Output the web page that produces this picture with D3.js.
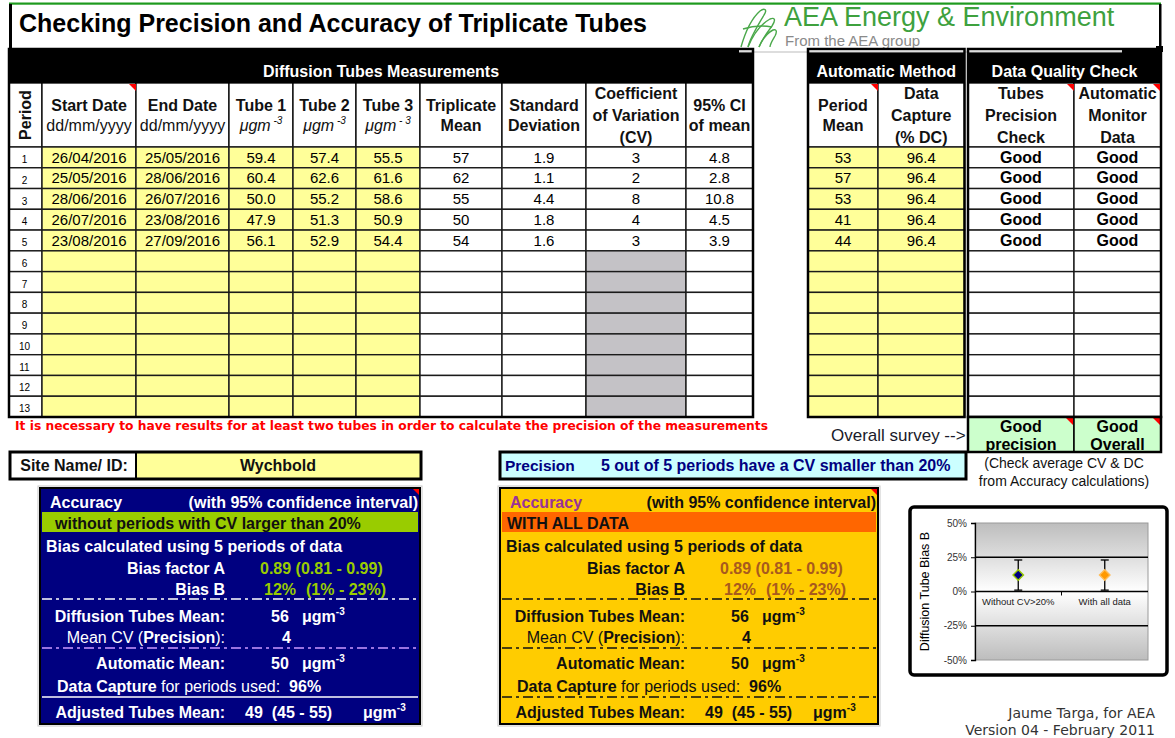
<!DOCTYPE html>
<html><head><meta charset="utf-8">
<script src="https://cdn.jsdelivr.net/npm/d3@7"></script>
<style>
html,body{margin:0;padding:0;background:#fff;overflow:hidden}
svg{display:block;font-family:"Liberation Sans",Arial,Helvetica,sans-serif}
</style></head><body>
<svg id="c" width="1175" height="738"></svg>
<script>
// ---------------- DATA ----------------
const periods = [1,2,3,4,5,6,7,8,9,10,11,12,13];
const startDates = ["26/04/2016","25/05/2016","28/06/2016","26/07/2016","23/08/2016"];
const endDates   = ["25/05/2016","28/06/2016","26/07/2016","23/08/2016","27/09/2016"];
const tube1 = [59.4, 60.4, 50.0, 47.9, 56.1];
const tube2 = [57.4, 62.6, 55.2, 51.3, 52.9];
const tube3 = [55.5, 61.6, 58.6, 50.9, 54.4];
const tripMean = [57, 62, 55, 50, 54];
const stdDev = [1.9, 1.1, 4.4, 1.8, 1.6];
const cvValues = [3, 2, 8, 4, 3];
const ci95 = [4.8, 2.8, 10.8, 4.5, 3.9];
const autoMean = [53, 57, 53, 41, 44];
const dataCapture = [96.4, 96.4, 96.4, 96.4, 96.4];
const precisionCheck = ["Good","Good","Good","Good","Good"];
const monitorCheck = ["Good","Good","Good","Good","Good"];
const overallChecks = [["Good","precision"],["Good","Overall"]];

const siteName = "Wychbold";
const periodsUsed = [5, 5];
const periodsTotal = 5;
const cvLimit = 20;
const biasA = [0.89, 0.89];
const biasALo = [0.81, 0.81];
const biasAHi = [0.99, 0.99];
const biasB = [0.12, 0.12];
const biasBLo = [0.01, 0.01];
const biasBHi = [0.23, 0.23];
const tubesMean = [56, 56];
const meanCV = [4, 4];
const automaticMean = [50, 50];
const captureUsed = [96, 96];
const adjMean = [49, 49];
const adjLo = [45, 45];
const adjHi = [55, 55];

const chartCats = ["Without CV>20%", "With all data"];
const yTickVals = [-0.5, -0.25, 0, 0.25, 0.5];

// ---------------- LAYOUT ----------------
const svg = d3.select("#c");
const defs = svg.append("defs");
const txtDark = "#111";

function tri(x, y, s) {
  svg.append("path").attr("d", `M${x-s},${y}L${x},${y}L${x},${y+s}Z`).attr("fill", "#ff0000");
}

// top title area
svg.append("rect").attr("x", 9).attr("y", 2.5).attr("width", 1152).attr("height", 2.2).attr("fill", "#1e9a1e");
svg.append("rect").attr("x", 9).attr("y", 4).attr("width", 3).attr("height", 46).attr("fill", "#000");
svg.append("rect").attr("x", 1159).attr("y", 4).attr("width", 2.5).attr("height", 43).attr("fill", "#000");
svg.append("text").attr("x", 19).attr("y", 32).attr("font-size", 25).attr("font-weight", "bold").attr("fill", "#000")
  .text("Checking Precision and Accuracy of Triplicate Tubes");

// black header bands
const bandTop = 49, hdrTop = 83, hdrBot = 147, tableBot = 417;
const bands = [
  {x0: 9, x1: 753, label: "Diffusion Tubes Measurements"},
  {x0: 808, x1: 964.5, label: "Automatic Method"},
  {x0: 968, x1: 1161, label: "Data Quality Check"}
];
svg.selectAll("rect.band").data(bands).join("rect").attr("class", "band")
  .attr("x", d => d.x0).attr("y", bandTop).attr("width", d => d.x1 - d.x0).attr("height", hdrTop - bandTop)
  .attr("fill", "#000");
svg.selectAll("text.band").data(bands).join("text").attr("class", "band")
  .attr("x", d => (d.x0 + d.x1) / 2).attr("y", 77).attr("text-anchor", "middle")
  .attr("font-size", 16).attr("font-weight", "bold").attr("fill", "#fff").text(d => d.label);

// logo
svg.append("rect").attr("x", 739).attr("y", 5).attr("width", 383).attr("height", 47).attr("fill", "#fff");
svg.append("line").attr("x1", 739).attr("x2", 1122).attr("y1", 52).attr("y2", 52).attr("stroke", "#bbb");
const swirl = ["M741,47 C745,33 752,18 760,11 C764,8 768,9 764,15 C758,25 750,38 748,47",
               "M748,47 C753,35 761,24 770,19 C775,17 776,20 772,26 C766,34 761,42 759,47",
               "M759,47 C762,40 767,33 773,30 C777,29 777,32 775,36 C772,41 770,44 770,47",
               "M743,29 C752,26 762,25 772,27"];
svg.selectAll("path.sw").data(swirl).join("path").attr("class", "sw").attr("d", d => d)
  .attr("fill", "none").attr("stroke", "#4aa84a").attr("stroke-width", 1.4);
svg.append("text").attr("x", 784).attr("y", 26).attr("font-size", 27).attr("fill", "#3ea13e").text("AEA Energy & Environment");
svg.append("text").attr("x", 785).attr("y", 46).attr("font-size", 15).attr("fill", "#8a8a8a").text("From the AEA group");
svg.append("rect").attr("x", 1156).attr("y", 46).attr("width", 7).attr("height", 6).attr("fill", "#000");

// table columns
const fmt1 = d3.format(".1f");
const cols = [
  {key: "period", x0: 9, x1: 42},
  {key: "start", x0: 42, x1: 136, vals: startDates, fill: "#ffff99", hdr: [[["Start Date","b"]],[["dd/mm/yyyy","n"]]]},
  {key: "end", x0: 136, x1: 229, vals: endDates, fill: "#ffff99", hdr: [[["End Date","b"]],[["dd/mm/yyyy","n"]]]},
  {key: "t1", x0: 229, x1: 293, vals: tube1.map(fmt1), fill: "#ffff99", hdr: [[["Tube 1","b"]],[["μgm","i"],[" -3","sup"]]]},
  {key: "t2", x0: 293, x1: 356, vals: tube2.map(fmt1), fill: "#ffff99", hdr: [[["Tube 2","b"]],[["μgm","i"],[" -3","sup"]]]},
  {key: "t3", x0: 356, x1: 420, vals: tube3.map(fmt1), fill: "#ffff99", hdr: [[["Tube 3","b"]],[["μgm","i"],[" - 3","sup"]]]},
  {key: "mean", x0: 420, x1: 502, vals: tripMean.map(String), fill: "#fff", hdr: [[["Triplicate","b"]],[["Mean","b"]]]},
  {key: "sd", x0: 502, x1: 586, vals: stdDev.map(fmt1), fill: "#fff", hdr: [[["Standard","b"]],[["Deviation","b"]]]},
  {key: "cv", x0: 586, x1: 686, vals: cvValues.map(String), fill: "#fff", emptyFill: "#c4c2c6", hdr: [[["Coefficient","b"]],[["of Variation","b"]],[["(CV)","b"]]]},
  {key: "ci", x0: 686, x1: 753, vals: ci95.map(fmt1), fill: "#fff", hdr: [[["95% CI","b"]],[["of mean","b"]]]},
  {key: "am", x0: 808, x1: 878, vals: autoMean.map(String), fill: "#ffff99", hdr: [[["Period","b"]],[["Mean","b"]]]},
  {key: "dc", x0: 878, x1: 964.5, vals: dataCapture.map(fmt1), fill: "#ffff99", hdr: [[["Data","b"]],[["Capture","b"]],[["(% DC)","b"]]]},
  {key: "pc", x0: 968, x1: 1074, vals: precisionCheck, fill: "#fff", bold: true, hdr: [[["Tubes","b"]],[["Precision","b"]],[["Check","b"]]]},
  {key: "mc", x0: 1074, x1: 1161, vals: monitorCheck, fill: "#fff", bold: true, hdr: [[["Automatic","b"]],[["Monitor","b"]],[["Data","b"]]]}
];
const rowY = d3.scaleBand().domain(periods).range([hdrBot, tableBot]);

// header cells
svg.selectAll("rect.hc").data(cols).join("rect").attr("class", "hc")
  .attr("x", d => d.x0).attr("y", hdrTop).attr("width", d => d.x1 - d.x0).attr("height", hdrBot - hdrTop)
  .attr("fill", "#fff").attr("stroke", "#000").attr("stroke-width", 1.3);

function addLine(x, y, segs) {
  const t = svg.append("text").attr("x", x).attr("y", y).attr("text-anchor", "middle").attr("font-size", 16).attr("fill", txtDark);
  segs.forEach(([s, st]) => {
    const ts = t.append("tspan").text(s);
    if (st === "b") ts.attr("font-weight", "bold");
    if (st === "i") ts.attr("font-style", "italic");
    if (st === "sup") ts.attr("font-size", 10).attr("dy", -7).attr("font-style", "italic");
  });
}
cols.forEach(c => {
  if (!c.hdr) return;
  const cx = (c.x0 + c.x1) / 2;
  const ys = c.hdr.length === 2 ? [110.5, 131] : [98.5, 120.5, 142.5];
  c.hdr.forEach((line, i) => addLine(cx, ys[i], line));
});
svg.append("text").attr("transform", "translate(31,115) rotate(-90)").attr("text-anchor", "middle")
  .attr("font-size", 16).attr("font-weight", "bold").attr("fill", txtDark).text("Period");

// data cells
cols.forEach(c => {
  const g = svg.append("g");
  g.selectAll("rect").data(periods).join("rect")
    .attr("x", c.x0).attr("y", p => rowY(p)).attr("width", c.x1 - c.x0).attr("height", rowY.bandwidth())
    .attr("fill", (p, i) => c.key === "period" ? "#fff" : (c.emptyFill && i >= c.vals.length ? c.emptyFill : c.fill))
    .attr("stroke", "#1a1a1a").attr("stroke-width", 1.4);
  if (c.key === "period") {
    g.selectAll("text").data(periods).join("text")
      .attr("x", (c.x0 + c.x1) / 2 - 1).attr("y", p => rowY(p) + 16).attr("text-anchor", "middle")
      .attr("font-size", 10).attr("fill", "#000").text(p => p);
  } else {
    g.selectAll("text").data(c.vals).join("text")
      .attr("x", (c.x0 + c.x1) / 2).attr("y", (v, i) => rowY(periods[i]) + 15.5).attr("text-anchor", "middle")
      .attr("font-size", c.bold ? 16 : 15).attr("font-weight", c.bold ? "bold" : "normal").attr("fill", "#000").text(v => v);
  }
});
// thick outer borders
[[9, 753], [808, 964.5], [968, 1161]].forEach(([a, b]) => {
  svg.append("rect").attr("x", a).attr("y", bandTop).attr("width", b - a).attr("height", tableBot - bandTop)
    .attr("fill", "none").attr("stroke", "#000").attr("stroke-width", 2.5);
});

// comment triangles
[[136, hdrTop + 1], [878, hdrTop + 1], [1074, hdrTop + 1], [1160, hdrTop + 1]].forEach(([x, y]) => tri(x, y, 7));

// warning
svg.append("text").attr("x", 15).attr("y", 430).attr("font-family", '"DejaVu Sans",Verdana,sans-serif')
  .attr("font-size", 12).attr("font-weight", "bold").attr("fill", "#ff0000")
  .attr("textLength", 753).attr("lengthAdjust", "spacingAndGlyphs")
  .text("It is necessary to have results for at least two tubes in order to calculate the precision of the measurements");

// overall survey
svg.append("text").attr("x", 831).attr("y", 441).attr("font-size", 17).attr("fill", "#1a1a2a").text("Overall survey -->");
const ovCols = [[968, 1074], [1074, 1161]];
ovCols.forEach(([a, b], i) => {
  svg.append("rect").attr("x", a).attr("y", 417).attr("width", b - a).attr("height", 35)
    .attr("fill", "#ccffcc").attr("stroke", "#000").attr("stroke-width", 1.5);
  svg.append("text").attr("x", (a + b) / 2).attr("y", 432).attr("text-anchor", "middle").attr("font-size", 16)
    .attr("font-weight", "bold").attr("fill", "#000").text(overallChecks[i][0]);
  svg.append("text").attr("x", (a + b) / 2).attr("y", 449.5).attr("text-anchor", "middle").attr("font-size", 16)
    .attr("font-weight", "bold").attr("fill", "#000").text(overallChecks[i][1]);
  tri(b - 1, 418, 7);
});
svg.append("rect").attr("x", 968).attr("y", 417).attr("width", 193).attr("height", 35).attr("fill", "none").attr("stroke", "#000").attr("stroke-width", 2.5);
svg.append("text").attr("x", 1064).attr("y", 468).attr("text-anchor", "middle").attr("font-size", 14).attr("fill", "#111").text("(Check average CV & DC");
svg.append("text").attr("x", 1064).attr("y", 486).attr("text-anchor", "middle").attr("font-size", 14).attr("fill", "#111").text("from Accuracy calculations)");

// site name
svg.append("rect").attr("x", 10).attr("y", 452).attr("width", 126).attr("height", 27).attr("fill", "#fff").attr("stroke", "#000").attr("stroke-width", 2);
svg.append("rect").attr("x", 136).attr("y", 452).attr("width", 285).attr("height", 27).attr("fill", "#ffff99").attr("stroke", "#000").attr("stroke-width", 2);
svg.append("rect").attr("x", 10).attr("y", 452).attr("width", 411).attr("height", 27).attr("fill", "none").attr("stroke", "#000").attr("stroke-width", 3);
svg.append("text").attr("x", 74).attr("y", 471).attr("text-anchor", "middle").attr("font-size", 16).attr("font-weight", "bold").attr("fill", "#111").text("Site Name/ ID:");
svg.append("text").attr("x", 278).attr("y", 471).attr("text-anchor", "middle").attr("font-size", 16).attr("font-weight", "bold").attr("fill", "#111").text(siteName);

// precision box
svg.append("rect").attr("x", 500).attr("y", 452).attr("width", 466).attr("height", 27).attr("fill", "#ccffff").attr("stroke", "#000").attr("stroke-width", 3);
svg.append("text").attr("x", 505).attr("y", 471).attr("font-size", 15.5).attr("font-weight", "bold").attr("fill", "#000080").text("Precision");
svg.append("text").attr("x", 601).attr("y", 470.5).attr("font-size", 16).attr("font-weight", "bold").attr("fill", "#000080")
  .text(`${cvValues.filter(v => v < cvLimit).length} out of ${periodsTotal} periods have a CV smaller than ${cvLimit}%`);

// accuracy boxes
const boxes = [
  {x0: 40, w: 380, fill: "#000080", band: "#99cc00", bandText: `without periods with CV larger than ${cvLimit}%`, bandTx: 15,
   txt: "#ffffff", head: "#ffffff", val: "#99cc00", dash: ["#ffffff", "#cc99ff", "#ffffff"], lastSolid: true, unitX: 323},
  {x0: 500, w: 378, fill: "#ffcc00", band: "#ff6600", bandText: "WITH ALL DATA", bandTx: 7,
   txt: "#111111", head: "#993399", val: "#a85a1e", dash: ["#111", "#111", "#111"], lastSolid: false, unitX: 313}
];
const fmt2 = d3.format(".2f");
const pct = v => Math.round(v * 100) + "%";
boxes.forEach((b, i) => {
  const x0 = b.x0, right = x0 + b.w;
  svg.append("rect").attr("x", x0 - 2).attr("y", 486).attr("width", b.w + 4).attr("height", 240).attr("fill", "none").attr("stroke", "#c8c8c8");
  svg.append("rect").attr("x", x0).attr("y", 488).attr("width", b.w).attr("height", 236).attr("fill", b.fill).attr("stroke", "#000").attr("stroke-width", 2);
  svg.append("rect").attr("x", x0 + 2).attr("y", 512).attr("width", b.w - 4).attr("height", 20).attr("fill", b.band);
  tri(right - 1, 489, 6);
  const T = (x, y, s, opt = {}) => svg.append("text").attr("x", x).attr("y", y).attr("font-size", opt.size || 16)
    .attr("font-weight", opt.normal ? "normal" : "bold").attr("text-anchor", opt.anchor || "start").attr("fill", opt.color || b.txt).text(s);
  T(x0 + 10, 508, "Accuracy", {color: b.head});
  T(right - 2, 508, "(with 95% confidence interval)", {anchor: "end"});
  T(x0 + b.bandTx, 528.5, b.bandText, {color: "#111"});
  T(x0 + 6, 551.5, `Bias calculated using ${periodsUsed[i]} periods of data`);
  const lx = x0 + 185;
  T(lx, 573.5, "Bias factor A", {anchor: "end"});
  T(x0 + 220, 573.5, `${fmt2(biasA[i])} (${fmt2(biasALo[i])} - ${fmt2(biasAHi[i])})`, {color: b.val});
  T(lx, 594.5, "Bias B", {anchor: "end"});
  T(x0 + 224, 594.5, pct(biasB[i]), {color: b.val});
  T(x0 + 266, 594.5, `(${pct(biasBLo[i])} - ${pct(biasBHi[i])})`, {color: b.val});
  T(lx, 621.5, "Diffusion Tubes Mean:", {anchor: "end"});
  const unit = (x, y) => {
    const t = T(x, y, "");
    t.append("tspan").text("μgm");
    t.append("tspan").attr("font-size", 10).attr("dy", -7).text("-3");
  };
  T(x0 + 231, 621.5, String(tubesMean[i]));
  unit(x0 + 262, 621.5);
  const mc = T(lx, 642.5, "", {anchor: "end"});
  mc.append("tspan").attr("font-weight", "normal").text("Mean CV (");
  mc.append("tspan").text("Precision");
  mc.append("tspan").attr("font-weight", "normal").text("):");
  T(x0 + 242, 642.5, String(meanCV[i]));
  T(lx, 668.5, "Automatic Mean:", {anchor: "end"});
  T(x0 + 231, 668.5, String(automaticMean[i]));
  unit(x0 + 262, 668.5);
  const dcT = T(x0 + 17, 691.5, "");
  dcT.append("tspan").text("Data Capture");
  dcT.append("tspan").attr("font-weight", "normal").text(" for periods used:");
  dcT.append("tspan").text("\u00a0\u00a0" + captureUsed[i] + "%");
  T(lx, 717.5, "Adjusted Tubes Mean:", {anchor: "end"});
  T(x0 + 205, 717.5, `${adjMean[i]}\u00a0\u00a0(${adjLo[i]} - ${adjHi[i]})`);
  unit(x0 + b.unitX, 717.5);
  [599, 648, 697].forEach((y, k) => {
    const ln = svg.append("line").attr("x1", x0 + 2).attr("x2", right - 2).attr("y1", y).attr("y2", y)
      .attr("stroke", b.dash[k]).attr("stroke-width", 1.3);
    if (!(k === 2 && b.lastSolid)) ln.attr("stroke-dasharray", "10,4,3,4");
  });
});

// ---------------- CHART ----------------
const cg = svg.append("g");
cg.append("rect").attr("x", 910).attr("y", 507).attr("width", 257).attr("height", 168).attr("rx", 4)
  .attr("fill", "#fff").attr("stroke", "#000").attr("stroke-width", 3.5);
const grad = defs.append("linearGradient").attr("id", "pg").attr("x1", 0).attr("y1", 0).attr("x2", 0).attr("y2", 1);
grad.append("stop").attr("offset", "0%").attr("stop-color", "#bdbdbd");
grad.append("stop").attr("offset", "50%").attr("stop-color", "#ffffff");
grad.append("stop").attr("offset", "100%").attr("stop-color", "#bdbdbd");
const yS = d3.scaleLinear().domain([-0.5, 0.5]).range([660, 523]);
const xS = d3.scaleBand().domain(chartCats).range([975, 1148]);
cg.append("rect").attr("x", 975).attr("y", yS(0.5)).attr("width", 173).attr("height", yS(-0.5) - yS(0.5))
  .attr("fill", "url(#pg)").attr("stroke", "#9a9a9a");
cg.selectAll("line.grid").data([0.25, -0.25, 0]).join("line").attr("class", "grid")
  .attr("x1", 975).attr("x2", 1148).attr("y1", d => yS(d)).attr("y2", d => yS(d)).attr("stroke", "#000").attr("stroke-width", 1.3);
const ax = cg.append("g").attr("transform", "translate(975,0)")
  .call(d3.axisLeft(yS).tickValues(yTickVals).tickSize(4).tickPadding(4).tickFormat(d => Math.round(d * 100) + "%"));
ax.select(".domain").attr("stroke", "#000").attr("stroke-width", 1.3);
ax.selectAll(".tick line").attr("stroke", "#000");
ax.selectAll(".tick text").attr("font-size", 10).attr("fill", "#333").attr("font-family", '"Liberation Sans",Arial,sans-serif');
cg.append("line").attr("x1", xS(chartCats[1])).attr("x2", xS(chartCats[1])).attr("y1", yS(0)).attr("y2", yS(0) + 4).attr("stroke", "#000");
cg.selectAll("text.cat").data(chartCats).join("text").attr("class", "cat")
  .attr("x", d => xS(d) + xS.bandwidth() / 2).attr("y", yS(0) + 13).attr("text-anchor", "middle")
  .attr("font-size", 9.5).attr("fill", "#222").text(d => d);
cg.append("text").attr("transform", `translate(929,${(yS(0.5) + yS(-0.5)) / 2}) rotate(-90)`).attr("text-anchor", "middle")
  .attr("font-size", 12.5).attr("fill", "#000").text("Diffusion Tube Bias B");
const pts = chartCats.map((c, i) => ({c, v: biasB[i], lo: biasBLo[i], hi: biasBHi[i]}));
const ptFill = ["#000080", "#ff9900"], ptStroke = ["#99cc00", "#ffbb55"];
pts.forEach((p, i) => {
  const cx = xS(p.c) + xS.bandwidth() / 2;
  cg.append("line").attr("x1", cx).attr("x2", cx).attr("y1", yS(p.lo)).attr("y2", yS(p.hi)).attr("stroke", "#000").attr("stroke-width", 1.3);
  [p.lo, p.hi].forEach(v => cg.append("line").attr("x1", cx - 4).attr("x2", cx + 4).attr("y1", yS(v)).attr("y2", yS(v)).attr("stroke", "#000").attr("stroke-width", 1.3));
  cg.append("path").attr("d", d3.symbol().type(d3.symbolSquare).size(55)())
    .attr("transform", `translate(${cx},${yS(p.v)}) rotate(45)`)
    .attr("fill", ptFill[i]).attr("stroke", ptStroke[i]).attr("stroke-width", 1.4);
});

// credits
svg.append("text").attr("x", 1155).attr("y", 718).attr("text-anchor", "end").attr("font-family", '"DejaVu Sans",Verdana,sans-serif')
  .attr("font-size", 14).attr("fill", "#333").text("Jaume Targa, for AEA");
svg.append("text").attr("x", 1155).attr("y", 735).attr("text-anchor", "end").attr("font-family", '"DejaVu Sans",Verdana,sans-serif')
  .attr("font-size", 14).attr("fill", "#333").text("Version 04 - February 2011");
</script>
</body></html>
